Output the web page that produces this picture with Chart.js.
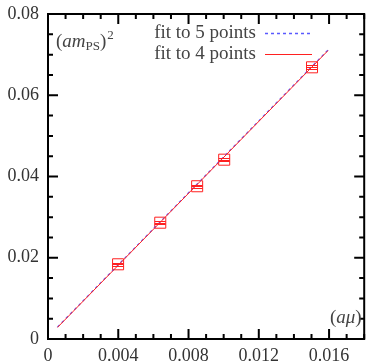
<!DOCTYPE html>
<html>
<head>
<meta charset="utf-8">
<script src="https://cdn.jsdelivr.net/npm/chart.js@4/dist/chart.umd.min.js"></script>
<style>
  html, body { margin: 0; padding: 0; background: #fff; overflow: hidden; }
  canvas { display: block; }
</style>
</head>
<body>
<canvas id="myChart" width="373" height="364"></canvas>
<script>
//Data
var amu     = [0.00399, 0.00639, 0.00849, 0.01003, 0.01503];
var mps2    = [0.01839, 0.02863, 0.03760, 0.04414, 0.06688];
var mps2Err = [0.00040, 0.00030, 0.00035, 0.00040, 0.00050];

//Fit lines (end points)
var fit5X = [0.00054, 0.01594];
var fit5Y = [0.00295, 0.07115];
var fit4X = [0.00054, 0.01594];
var fit4Y = [0.00285, 0.07100];

var legendLabels = ["fit to 5 points", "fit to 4 points"];

const toXY = (xs, ys) => xs.map((v, i) => ({x: v, y: ys[i]}));
const serif = "'Liberation Serif', 'DejaVu Serif', serif";
const blue = '#5a5aff';
const red = '#ff2020';

//Tick label text
function xLabel(v) {
  var k = Math.round(v * 1000);
  if (k % 4 !== 0 || k > 16) return '';
  return k === 0 ? '0' : (k / 1000).toFixed(3);
}
function yLabel(v) {
  var k = Math.round(v * 1000);
  if (k % 20 !== 0) return '';
  return k === 0 ? '0' : (k / 1000).toFixed(2);
}

//Frame, inward ticks, tick labels, error bars, legend and axis labels
const extras = {
  id: 'extras',
  afterDatasetsDraw(chart) {
    const {ctx, scales: {x, y}} = chart;
    ctx.save();
    ctx.strokeStyle = red;
    ctx.lineWidth = 1;
    for (var i = 0; i < amu.length; i++) {
      var px = x.getPixelForValue(amu[i]);
      var vals = [mps2[i] - mps2Err[i], mps2[i], mps2[i] + mps2Err[i]];
      vals.forEach(function(v) {
        var py = Math.round(y.getPixelForValue(v)) + 0.5;
        ctx.beginPath();
        ctx.moveTo(px - 5.5, py);
        ctx.lineTo(px + 5.5, py);
        ctx.stroke();
      });
    }
    ctx.restore();
  },
  afterDraw(chart) {
    const {ctx, chartArea: a, scales: {x, y}} = chart;
    ctx.save();
    ctx.strokeStyle = '#000';
    ctx.lineWidth = 2;
    ctx.strokeRect(a.left, a.top, a.right - a.left, a.bottom - a.top);

    ctx.fillStyle = '#333';
    ctx.font = "18px " + serif;
    x.ticks.forEach(function(t, i) {
      var px = x.getPixelForValue(t.value);
      var len = (i % 4 === 0) ? 10 : 5;
      ctx.beginPath();
      ctx.moveTo(px, a.bottom); ctx.lineTo(px, a.bottom - len);
      ctx.moveTo(px, a.top); ctx.lineTo(px, a.top + len);
      ctx.stroke();
      ctx.textAlign = 'center';
      ctx.textBaseline = 'alphabetic';
      ctx.fillText(xLabel(t.value), px, a.bottom + 22);
    });
    y.ticks.forEach(function(t, i) {
      var py = y.getPixelForValue(t.value);
      var len = (i % 4 === 0) ? 10 : 5;
      ctx.beginPath();
      ctx.moveTo(a.left, py); ctx.lineTo(a.left + len, py);
      ctx.moveTo(a.right, py); ctx.lineTo(a.right - len, py);
      ctx.stroke();
      ctx.textAlign = 'right';
      ctx.textBaseline = 'middle';
      ctx.fillText(yLabel(t.value), a.left - 9, py);
    });

    //Legend
    ctx.fillStyle = '#444';
    ctx.font = "19px " + serif;
    ctx.textAlign = 'right';
    ctx.textBaseline = 'alphabetic';
    ctx.fillText(legendLabels[0], 256, 38);
    ctx.fillText(legendLabels[1], 256, 59);
    ctx.lineWidth = 1.5;
    ctx.strokeStyle = blue;
    ctx.setLineDash([3, 3]);
    ctx.beginPath(); ctx.moveTo(265, 33.5); ctx.lineTo(312, 33.5); ctx.stroke();
    ctx.setLineDash([]);
    ctx.lineWidth = 1;
    ctx.strokeStyle = red;
    ctx.beginPath(); ctx.moveTo(265, 54.5); ctx.lineTo(312, 54.5); ctx.stroke();

    //Axis labels inside the plot
    ctx.textAlign = 'left';
    var cx = 56, by = 47;
    ctx.font = "19px " + serif;
    ctx.fillText("(", cx, by); cx += ctx.measureText("(").width;
    ctx.font = "italic 19px " + serif;
    ctx.fillText("am", cx, by); cx += ctx.measureText("am").width;
    ctx.font = "13px " + serif;
    ctx.fillText("PS", cx, by + 3); cx += ctx.measureText("PS").width;
    ctx.font = "19px " + serif;
    ctx.fillText(")", cx, by); cx += ctx.measureText(")").width;
    ctx.font = "13px " + serif;
    ctx.fillText("2", cx + 1, by - 8);

    cx = 330; by = 323;
    ctx.font = "19px " + serif;
    ctx.fillText("(", cx, by); cx += ctx.measureText("(").width;
    ctx.font = "italic 19px " + serif;
    ctx.fillText("a\u03bc", cx, by); cx += ctx.measureText("a\u03bc").width;
    ctx.font = "19px " + serif;
    ctx.fillText(")", cx, by);
    ctx.restore();
  }
};

const data = {
  datasets: [
    {
      type: 'line',
      data: toXY(fit4X, fit4Y),
      borderColor: red,
      borderWidth: 1,
      pointRadius: 0,
      fill: false
    },
    {
      type: 'line',
      data: toXY(fit5X, fit5Y),
      borderColor: blue,
      borderWidth: 1.2,
      borderDash: [3, 3],
      pointRadius: 0,
      fill: false
    },
    {
      type: 'scatter',
      data: toXY(amu, mps2),
      pointStyle: 'rect',
      pointRadius: 7.8,
      pointBorderColor: red,
      pointBackgroundColor: 'rgba(0,0,0,0)',
      pointBorderWidth: 1
    }
  ]
};

const config = {
  type: 'scatter',
  data: data,
  plugins: [extras],
  options: {
    responsive: false,
    animation: false,
    layout: { padding: { top: 14, right: 1, left: 48, bottom: 25 } },
    plugins: { legend: { display: false }, tooltip: { enabled: false } },
    scales: {
      x: {
        type: 'linear',
        display: false,
        min: 0, max: 0.018,
        ticks: { stepSize: 0.001, autoSkip: false }
      },
      y: {
        type: 'linear',
        display: false,
        min: 0, max: 0.08,
        ticks: { stepSize: 0.005, autoSkip: false }
      }
    }
  }
};

var canvas = document.getElementById('myChart').getContext('2d');
var myChart = new Chart(canvas, config);
</script>
</body>
</html>
